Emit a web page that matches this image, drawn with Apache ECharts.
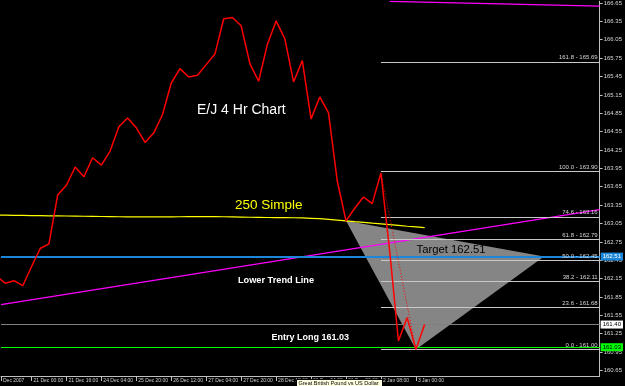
<!DOCTYPE html>
<html><head><meta charset="utf-8">
<script src="https://cdn.jsdelivr.net/npm/echarts@6/dist/echarts.min.js"></script>
<style>html,body{margin:0;padding:0;background:#000}#c{width:625px;height:386px}</style>
</head><body><div id="c"></div>
<script>
// ---- data (bar index, 4h bars; first value is bar -1) ----
const closes = [162.19,162.075,162.116,162.034,162.344,162.642,162.718,163.516,163.674,163.972,163.814,164.123,164.004,164.232,164.628,164.774,164.612,164.374,164.530,164.830,165.344,165.579,165.442,165.470,165.644,165.816,166.393,166.414,166.279,165.660,165.372,165.974,166.357,166.064,165.361,165.709,164.758,165.116,164.856,163.744,163.093,163.299,163.483,163.374,163.874,162.604,161.131,161.513,160.992,161.40];
const sma250 = [163.187,163.185,163.183,163.182,163.180,163.178,163.176,163.174,163.172,163.170,163.168,163.166,163.164,163.162,163.160,163.159,163.158,163.158,163.157,163.157,163.158,163.160,163.162,163.163,163.163,163.162,163.160,163.158,163.155,163.152,163.150,163.148,163.146,163.145,163.144,163.142,163.135,163.128,163.118,163.106,163.094,163.080,163.068,163.055,163.045,163.030,163.018,163.005,162.995,162.983];
const xTickIdx = [-0.489,3,7,11,15,19,23,27,31,35,39,43,47];
const xTickLabels = ['Dec 2007','21 Dec 00:00','21 Dec 16:00','24 Dec 04:00','25 Dec 20:00','26 Dec 12:00','27 Dec 04:00','27 Dec 20:00','28 Dec 12:00','31 Dec 04:00','31 Dec 20:00','2 Jan 08:00','3 Jan 00:00'];
const yTicks = [160.65,160.95,161.25,161.55,161.85,162.15,162.45,162.75,163.05,163.35,163.65,163.95,164.25,164.55,164.85,165.15,165.45,165.75,166.05,166.35,166.65];
const fibPct = ['0.0','23.6','38.2','50.0','61.8','74.6','100.0','161.8'];
const fibVal = [161.00,161.68,162.11,162.45,162.79,163.16,163.90,165.69];
const fibStartBar = 43;
const lowerTrend = [[-0.489,161.725],[68.034,163.275]];
const upperTrend = [[44,166.676],[68.034,166.598]];
const zigzag = [[43,163.874],[47,160.992]];
const triangle = [[39,163.093],[47,160.992],[61.67,162.51]];
const targetPrice = 162.51, bidPrice = 161.40, entryPrice = 161.03;

const X_MIN = -0.489, X_MAX = 68.034;
const chart = echarts.init(document.getElementById('c'), null, {renderer:'canvas'});
const closeData = closes.map((v,i)=>[i-1,v]);
const smaData = sma250.map((v,i)=>[i-1,v]);

const fibLines = fibVal.map((v,i)=>[
  {coord:[fibStartBar,v], lineStyle:{color:'#c8c8c8',width:1,type:'solid'},
   label:{show:true,position:'insideEndTop',formatter:fibPct[i]+' - '+v.toFixed(2),color:'#d8d8d8',fontSize:6,fontFamily:'Arial',distance:[2,1]}},
  {coord:[X_MAX,v]}
]);

const option = {
  backgroundColor:'#000',
  animation:false,
  grid:{left:0,right:22,top:0,bottom:10,containLabel:false},
  xAxis:{type:'value',min:X_MIN,max:X_MAX,position:'bottom',
    axisLine:{show:true,onZero:false,lineStyle:{color:'#c0c0c0',width:1}},
    axisTick:{show:true,customValues:xTickIdx,length:5,lineStyle:{color:'#c0c0c0'}},
    axisLabel:{show:true,customValues:xTickIdx,formatter:(v)=>{const i=xTickIdx.indexOf(v);return i>=0?xTickLabels[i]:'';},
      align:'left',fontSize:5,fontFamily:'Arial',color:'#d0d0d0',margin:2,padding:[0,0,0,2]},
    splitLine:{show:false}},
  yAxis:{type:'value',min:160.56,max:166.68,position:'right',
    axisLine:{show:true,onZero:false,lineStyle:{color:'#c0c0c0',width:1}},
    axisTick:{show:true,customValues:yTicks,length:3,lineStyle:{color:'#c0c0c0'}},
    axisLabel:{show:true,customValues:yTicks,formatter:(v)=>v.toFixed(2),fontSize:6,fontFamily:'Arial',color:'#d8d8d8',margin:4},
    splitLine:{show:false}},
  series:[
    {type:'custom',z:1,silent:true,clip:true,data:[triangle[0]],
     renderItem:(params,api)=>({type:'polygon',shape:{points:triangle.map(p=>api.coord(p))},style:{fill:'#858585'}})},
    {type:'line',z:2,silent:true,data:[[fibStartBar,fibVal[0]]],symbol:'none',lineStyle:{width:0},
     markLine:{silent:true,symbol:['none','none'],animation:false,data:[
       ...fibLines,
       {yAxis:bidPrice,lineStyle:{color:'#808080',width:1,type:'solid'},
        label:{show:true,position:'end',formatter:bidPrice.toFixed(2),color:'#000',backgroundColor:'#ffffff',fontSize:6,fontFamily:'Arial',padding:[1,2,1,2],distance:1}},
       {yAxis:entryPrice,lineStyle:{color:'#00ff00',width:1,type:'solid'},
        label:{show:true,position:'end',formatter:entryPrice.toFixed(2),color:'#000',backgroundColor:'#00ff00',fontSize:6,fontFamily:'Arial',padding:[1,2,1,2],distance:1}},
       {yAxis:targetPrice,lineStyle:{color:'#1C86D8',width:2,type:'solid'},
        label:{show:true,position:'end',formatter:targetPrice.toFixed(2),color:'#fff',backgroundColor:'#1C86D8',fontSize:6,fontFamily:'Arial',padding:[1,2,1,2],distance:1}}
     ]}},
    {type:'line',z:3,silent:true,data:smaData,symbol:'none',lineStyle:{color:'#ffff00',width:1.2}},
    {type:'line',z:4,silent:true,data:lowerTrend,symbol:'none',lineStyle:{color:'#ff00ff',width:1.2}},
    {type:'line',z:4,silent:true,data:upperTrend,symbol:'none',lineStyle:{color:'#ff00ff',width:1.2}},
    {type:'line',z:5,silent:true,data:zigzag,symbol:'none',lineStyle:{color:'#ff0000',width:1,type:[1,2]}},
    {type:'line',z:6,silent:true,data:closeData,symbol:'none',lineStyle:{color:'#ff0000',width:1.5}}
  ],
  graphic:[
    {type:'text',z:100,x:197,y:110.5,style:{text:'E/J 4 Hr Chart',fill:'#ffffff',font:'14px Arial',verticalAlign:'middle'}},
    {type:'text',z:100,x:235,y:205.5,style:{text:'250 Simple',fill:'#ffff00',font:'13.5px Arial',verticalAlign:'middle'}},
    {type:'text',z:100,x:416.5,y:250,style:{text:'Target 162.51',fill:'#000000',font:'11.3px Arial',verticalAlign:'middle'}},
    {type:'text',z:100,x:238,y:280.5,style:{text:'Lower Trend Line',fill:'#ffffff',font:'bold 9.2px Arial',verticalAlign:'middle'}},
    {type:'text',z:100,x:271.5,y:338,style:{text:'Entry Long 161.03',fill:'#ffffff',font:'bold 9px Arial',verticalAlign:'middle'}},
    {type:'rect',z:100,shape:{x:296.5,y:379.5,width:86,height:9},style:{fill:'#ffffe1',stroke:'#000000',lineWidth:1}},
    {type:'text',z:101,x:298.5,y:380.5,style:{text:'Great British Pound vs US Dollar',fill:'#000000',font:'5.5px Arial',verticalAlign:'top'}}
  ]
};
chart.setOption(option);
</script></body></html>
